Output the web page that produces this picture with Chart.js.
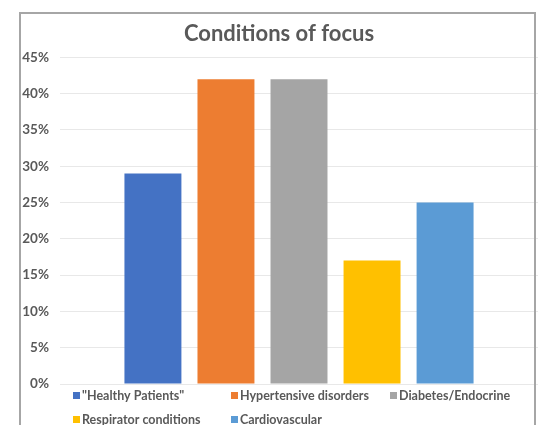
<!DOCTYPE html>
<html>
<head>
<meta charset="utf-8">
<script src="https://cdn.jsdelivr.net/npm/chart.js@4/dist/chart.umd.min.js"></script>
<style>
  html, body { margin: 0; padding: 0; background: #ffffff; }
  #wrap { width: 539px; height: 425px; position: relative; }
</style>
</head>
<body>
<div id="wrap"><canvas id="chart"></canvas></div>
<script>
// Share of patients by condition of focus (percent)
const conditions = ['"Healthy Patients"', 'Hypertensive disorders', 'Diabetes/Endocrine', 'Respirator conditions', 'Cardiovascular'];
const shares = [29, 42, 42, 17, 25];
const barColors = ['#4472C4', '#ED7D31', '#A5A5A5', '#FFC000', '#5B9BD5'];
const yTicks = [0, 5, 10, 15, 20, 25, 30, 35, 40, 45];

const textGray = '#595959';
const fontFamily = 'Lato, "Open Sans", sans-serif';

// Frame around the whole chart (bottom edge runs off the canvas)
const framePlugin = {
  id: 'frame',
  afterDraw(chart) {
    const ctx = chart.ctx;
    ctx.save();
    ctx.strokeStyle = '#a6a6a6';
    ctx.lineWidth = 2;
    ctx.beginPath();
    ctx.moveTo(20, 430);
    ctx.lineTo(20, 13);
    ctx.lineTo(535, 13);
    ctx.lineTo(535, 430);
    ctx.stroke();
    ctx.restore();
  }
};

// Legend laid out in fixed columns, two rows
const columnLegend = {
  id: 'columnLegend',
  afterDraw(chart) {
    const ctx = chart.ctx;
    const cols = [73, 231, 390];
    const rows = [395.5, 419.5];
    ctx.save();
    ctx.font = 'bold 12.5px ' + fontFamily;
    ctx.textBaseline = 'middle';
    chart.data.datasets.forEach((ds, i) => {
      const x = cols[i % 3];
      const y = rows[Math.floor(i / 3)];
      ctx.fillStyle = ds.backgroundColor;
      ctx.fillRect(x, y - 3.5, 7, 7);
      ctx.fillStyle = textGray;
      ctx.fillText(ds.label, x + 9, y + 0.5);
    });
    ctx.restore();
  }
};

const datasets = conditions.map((name, i) => ({
  label: name,
  data: [shares[i]],
  backgroundColor: barColors[i],
  borderWidth: 0,
  categoryPercentage: 0.764,
  barPercentage: 0.78
}));

new Chart(document.getElementById('chart'), {
  type: 'bar',
  data: { labels: [''], datasets },
  options: {
    responsive: true,
    maintainAspectRatio: false,
    animation: false,
    layout: { padding: { left: 20, right: 1, top: 12, bottom: 41 } },
    plugins: {
      legend: { display: false },
      tooltip: { enabled: false },
      title: {
        display: true,
        text: 'Conditions of focus',
        color: textGray,
        font: { family: fontFamily, size: 22, weight: 'bold' },
        padding: { top: 9, bottom: 10 }
      }
    },
    scales: {
      x: {
        display: false
      },
      y: {
        min: 0,
        max: 45,
        afterBuildTicks(scale) {
          scale.ticks = yTicks.map(v => ({ value: v }));
        },
        afterFit(scale) { scale.width = 40; },
        ticks: {
          color: textGray,
          font: { family: fontFamily, size: 13.5, weight: 'bold' },
          padding: 11,
          callback: v => v + '%'
        },
        grid: { color: '#e8e8e8', lineWidth: 1, drawTicks: false },
        border: { display: false }
      }
    }
  },
  plugins: [framePlugin, columnLegend]
});
</script>
</body>
</html>
